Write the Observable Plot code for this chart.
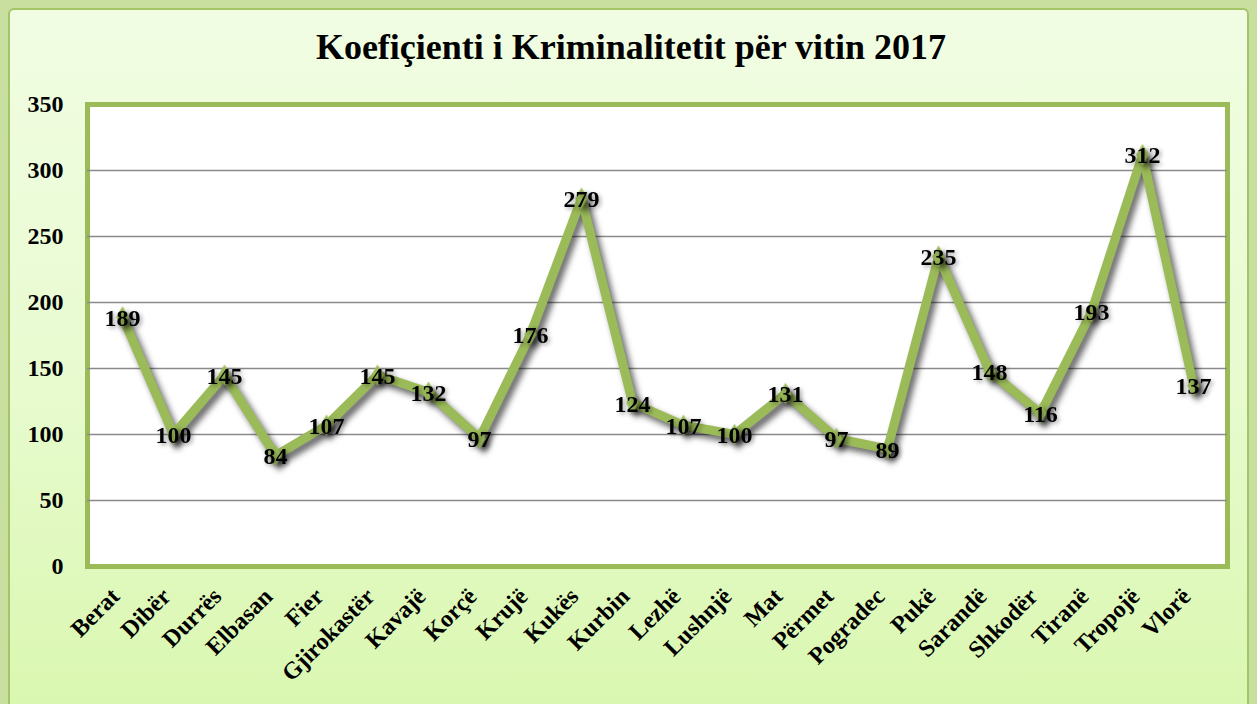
<!DOCTYPE html>
<html>
<head>
<meta charset="utf-8">
<script src="https://cdn.jsdelivr.net/npm/d3@7"></script>
<script src="https://cdn.jsdelivr.net/npm/@observablehq/plot@0.6"></script>
<style>
  html, body { margin: 0; padding: 0; }
  body { width: 1257px; height: 704px; background: #c9df9f; position: relative; overflow: hidden; font-family: "Liberation Serif", "DejaVu Serif", serif; }
  #box { position: absolute; left: 8px; top: 8px; width: 1237px; height: 720px; border: 2px solid #a3c567; border-radius: 6px;
         background: linear-gradient(to bottom, #f1fde3 0%, #e8fbd0 50%, #d9f7ae 100%); }
  #title { position: absolute; left: 0; top: 26px; width: 1262px; text-align: center; font-weight: bold; font-size: 36px; color: #000; }
  #chart { position: absolute; left: 0; top: 0; }
</style>
</head>
<body>
<div id="box"></div>
<div id="title">Koefiçienti i Kriminalitetit për vitin 2017</div>
<div id="chart"></div>
<script>
const cities = ["Berat","Dibër","Durrës","Elbasan","Fier","Gjirokastër","Kavajë","Korçë","Krujë","Kukës","Kurbin","Lezhë","Lushnjë","Mat","Përmet","Pogradec","Pukë","Sarandë","Shkodër","Tiranë","Tropojë","Vlorë"];
const values = [189,100,145,84,107,145,132,97,176,279,124,107,100,131,97,89,235,148,116,193,312,137];
const yTicks = [0,50,100,150,200,250,300,350];

const data = cities.map((c, i) => ({city: c, value: values[i]}));
const green = "#9bbb59";

const chart = Plot.plot({
  width: 1257,
  height: 704,
  marginLeft: 87,
  marginRight: 30,
  marginTop: 104,
  marginBottom: 138,
  style: {background: "transparent", fontFamily: "'Liberation Serif', serif", fontWeight: "bold", color: "#000"},
  x: {type: "point", domain: cities, padding: 0.5, label: null},
  y: {domain: [0, 350], label: null},
  marks: [
    Plot.frame({fill: "white", stroke: green, strokeWidth: 5}),
    Plot.gridY(yTicks.slice(1, -1), {stroke: "#8a8a8a", strokeWidth: 1.5, strokeOpacity: 1}),
    Plot.axisY(yTicks, {tickSize: 0, tickPadding: 24, fontSize: 24, fontWeight: "bold", label: null}),
    Plot.axisX(cities, {tickSize: 0, tickPadding: 26, tickRotate: -45, dx: -7, fontSize: 24, fontWeight: "bold", label: null}),
    Plot.line(data, {x: "city", y: "value", stroke: green, strokeWidth: 9, strokeLinejoin: "miter", strokeMiterlimit: 3}),
    Plot.dot(data, {x: "city", y: "value", symbol: "diamond", r: 6.5, fill: green, stroke: null}),
    Plot.text(data, {x: "city", y: "value", text: d => String(d.value), fontSize: 24, fontWeight: "bold", fill: "#000", dy: 1})
  ]
});
document.getElementById("chart").appendChild(chart);
const svg = d3.select(chart);
svg.selectAll("g[aria-label='line'], g[aria-label='dot']").style("filter", "drop-shadow(4px 5px 3px rgba(0,0,0,0.6))");
svg.selectAll("g[aria-label='text']").style("filter", "drop-shadow(2px 2px 2px rgba(0,0,0,0.35))");
svg.selectAll("g[aria-label='frame']").style("filter", "drop-shadow(1px 2px 1px rgba(0,0,0,0.35))");
</script>
</body>
</html>
